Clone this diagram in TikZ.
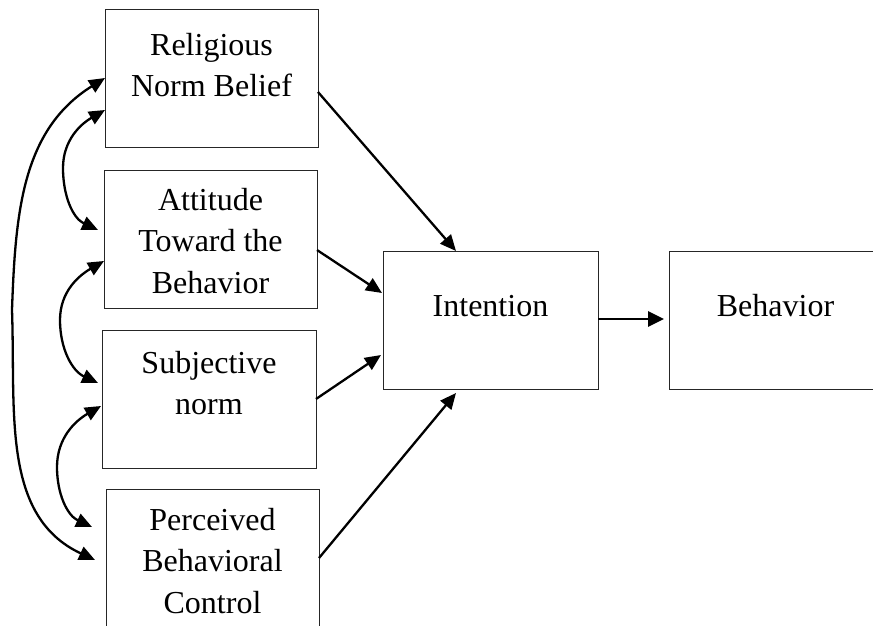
\documentclass[tikz,border=0pt]{standalone}
\usepackage{fontspec}
\setmainfont{Liberation Serif}
\usetikzlibrary{arrows.meta}
\begin{document}
\begin{tikzpicture}[x=1pt,y=1pt,
  box/.style={draw=black!85, line width=0.9pt, minimum width=213pt, minimum height=138pt, inner sep=0pt},
  txt/.style={font=\fontsize{32}{41.5}\selectfont, align=center, inner sep=0pt},
  conn/.style={line width=2.3pt, -{Triangle[length=16pt,width=14pt]}},
  thickconn/.style={line width=2.8pt, -{Triangle[length=16pt,width=15pt]}},
  dbl/.style={line width=2.3pt, {Triangle[length=16pt,width=14pt]}-{Triangle[length=16pt,width=14pt]}},
]
\useasboundingbox (0,0) rectangle (873,-625);
\clip (0,0) rectangle (873,-625);

% boxes
\node[box] (b1) at (211.5,-78) {};
\node[box] (b2) at (210.5,-239) {};
\node[box, minimum width=214pt] (b3) at (209,-399) {};
\node[box] (b4) at (212.5,-558) {};
\node[box, minimum width=215pt] (int) at (490.5,-320) {};
\node[box] (beh) at (775.5,-320) {};

% texts
\node[txt, anchor=north] (t1) at (211.5,-33) {Religious\\Norm Belief};
\node[txt, anchor=north] (t2) at (210.5,-188) {Attitude\\Toward the\\Behavior};
\node[txt, anchor=north] (t3) at (209,-351) {Subjective\\norm};
\node[txt, anchor=north] (t4) at (212.5,-508) {Perceived\\Behavioral\\Control};
\node[txt, anchor=base] (tint) at (490.5,-316) {Intention};
\node[txt, anchor=base] (tbeh) at (775.5,-316) {Behavior};

% connector end points
\coordinate (s1) at (318,-92);
\coordinate (e1) at (456,-251);
\coordinate (s2) at (317,-250);
\coordinate (e2) at (382,-293);
\coordinate (s3) at (316,-399);
\coordinate (e3) at (381,-355);
\coordinate (s4) at (319,-558);
\coordinate (e4) at (456,-393);
\coordinate (s5) at (598,-319);
\coordinate (e5) at (664,-319);

\draw[conn] (s1) -- (e1);
\draw[conn] (s2) -- (e2);
\draw[conn] (s3) -- (e3);
\draw[conn] (s4) -- (e4);
\draw[thickconn] (s5) -- (e5);

% correlation arcs
\coordinate (oT) at (105,-78);
\coordinate (oM) at (12,-310);
\coordinate (oB) at (95,-560);
\coordinate (aT) at (105,-110);
\coordinate (aM) at (63,-168);
\coordinate (aB) at (98,-230);
\coordinate (bT) at (104,-261);
\coordinate (bM) at (60,-320);
\coordinate (bB) at (98,-383);
\coordinate (cT) at (101,-406);
\coordinate (cM) at (57,-467);
\coordinate (cB) at (92,-527);

\draw[dbl] (oT) to[out=212,in=88] (oM) to[out=-88,in=155] (oB);
\draw[dbl] (aT) to[out=210,in=90] (aM) to[out=-90,in=155] (aB);
\draw[dbl] (bT) to[out=210,in=90] (bM) to[out=-90,in=155] (bB);
\draw[dbl] (cT) to[out=210,in=90] (cM) to[out=-90,in=155] (cB);
\end{tikzpicture}
\end{document}
